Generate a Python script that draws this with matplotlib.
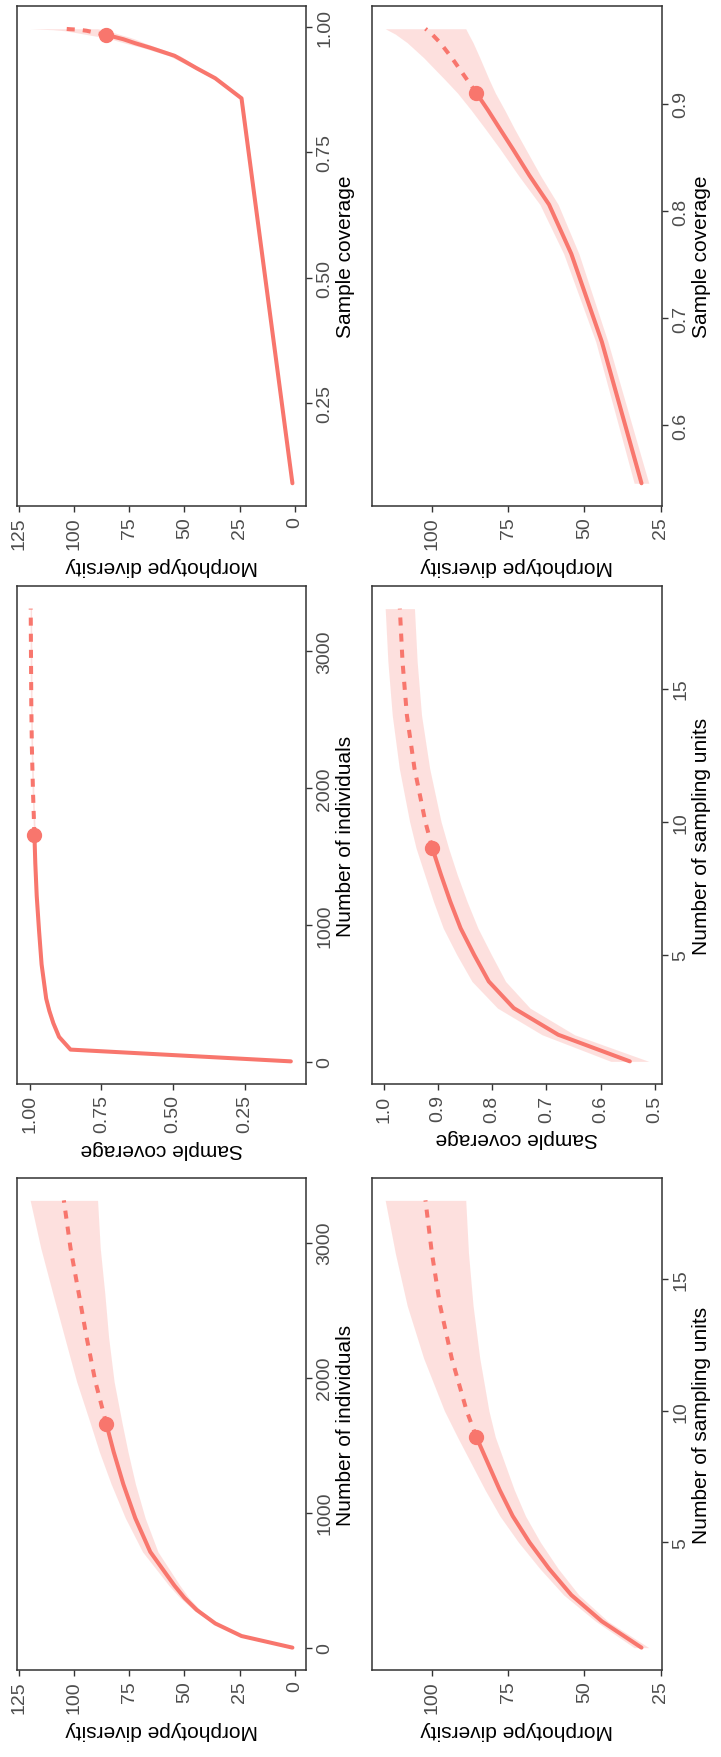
import matplotlib
matplotlib.use('Agg')
import matplotlib.pyplot as plt

plt.rcParams['font.family'] = ['Liberation Sans', 'DejaVu Sans']

# individual-based curve (knots), observed sample at index 10
n_ind = [1, 87, 180, 280, 370, 460, 710, 960, 1210, 1450, 1656, 1970, 2300, 2620, 2960, 3312]
div_ind = [1.0, 24.1, 36.0, 44.4, 50.0, 54.5, 65.5, 72.3, 77.7, 82.1, 85.4, 90.4, 94.4, 97.9, 101.7, 104.7]
div_ind_lo = [0.8, 23.6, 35.0, 42.9, 48.0, 52.0, 62.0, 67.8, 72.2, 75.6, 78.2, 81.9, 84.4, 86.1, 88.2, 89.4]
div_ind_hi = [1.2, 24.6, 37.0, 45.9, 52.0, 57.0, 69.0, 76.8, 83.2, 88.6, 92.6, 98.9, 104.4, 109.7, 115.2, 120.0]
sc_ind = [0.089, 0.858, 0.898, 0.918, 0.932, 0.943, 0.959, 0.968, 0.976, 0.981, 0.984, 0.989, 0.993, 0.995, 0.996, 0.997]
sc_ind_lo = [0.082, 0.852, 0.893, 0.913, 0.927, 0.939, 0.956, 0.965, 0.973, 0.978, 0.981, 0.986, 0.990, 0.992, 0.993, 0.994]
sc_ind_hi = [0.096, 0.864, 0.903, 0.923, 0.937, 0.947, 0.962, 0.971, 0.979, 0.984, 0.987, 0.992, 0.996, 0.998, 0.999, 0.999]
obs_ind = 10

# incidence-based curve (sampling units), observed sample at index 8
u_inc = [1, 2, 3, 4, 5, 6, 7, 8, 9, 10, 12, 14, 16, 18]
div_inc = [31.3, 44.3, 54.3, 61.6, 68.0, 73.5, 77.8, 81.6, 85.4, 88.6, 93.5, 97.3, 100.0, 102.1]
div_inc_lo = [28.9, 42.3, 51.8, 58.6, 64.4, 69.3, 73.0, 76.1, 79.2, 81.3, 84.3, 86.5, 88.0, 88.9]
div_inc_hi = [33.7, 46.3, 56.8, 64.6, 71.6, 77.7, 82.6, 87.1, 91.6, 95.9, 102.7, 108.1, 112.0, 115.3]
sc_inc = [0.546, 0.678, 0.760, 0.806, 0.833, 0.858, 0.877, 0.894, 0.910, 0.923, 0.943, 0.957, 0.965, 0.970]
sc_inc_lo = [0.511, 0.648, 0.730, 0.775, 0.801, 0.826, 0.846, 0.864, 0.880, 0.894, 0.915, 0.930, 0.938, 0.943]
sc_inc_hi = [0.581, 0.708, 0.790, 0.837, 0.865, 0.890, 0.908, 0.924, 0.940, 0.952, 0.971, 0.984, 0.992, 0.997]
obs_inc = 8

red = '#F8766D'
W, H = 721, 1758

fig = plt.figure(figsize=(W / 100, H / 100), dpi=100)


def panel(box, x, y, lo, hi, obs, xlab, ylab, xticks, xtl, yticks, ytl):
    left, top, w, bottom = box
    ax = fig.add_axes([left / W, 1 - bottom / H, w / W, (bottom - top) / H])
    # whole chart is turned a quarter turn: x runs upwards, y runs right-to-left
    ax.fill_betweenx(x, lo, hi, color=red, alpha=0.22, lw=0)
    ax.plot(y[:obs + 1], x[:obs + 1], color=red, lw=2.9, solid_capstyle='round',
            solid_joinstyle='round')
    ax.plot(y[obs:], x[obs:], color=red, lw=2.9, ls=(0, (2, 2)))
    ax.plot([y[obs]], [x[obs]], 'o', color=red, ms=10)
    ax.margins(0.05)
    ax.invert_xaxis()
    ax.yaxis.tick_right()
    ax.yaxis.set_label_position('right')
    ax.set_yticks(xticks)
    ax.set_yticklabels(xtl, rotation=90, va='center')
    ax.set_xticks(yticks)
    ax.set_xticklabels(ytl, rotation=90)
    ax.set_ylabel(xlab, rotation=90, fontsize=15, labelpad=2)
    ax.set_xlabel(ylab, rotation=180, fontsize=15, labelpad=5)
    ax.tick_params(length=4.5, width=1.0, color='#333333', labelcolor='#4D4D4D',
                   labelsize=14, pad=3)
    for s in ax.spines.values():
        s.set_color('#333333')
        s.set_linewidth(1.1)
    return ax


div_ticks_a = [0, 25, 50, 75, 100, 125]
div_ticks_b = [25, 50, 75, 100]

panel((17, 7, 289, 507), sc_ind, div_ind, div_ind_lo, div_ind_hi, obs_ind,
      'Sample coverage', 'Morphotype diversity',
      [0.25, 0.50, 0.75, 1.00], ['0.25', '0.50', '0.75', '1.00'],
      div_ticks_a, [str(v) for v in div_ticks_a])
panel((372, 7, 290, 507), sc_inc, div_inc, div_inc_lo, div_inc_hi, obs_inc,
      'Sample coverage', 'Morphotype diversity',
      [0.6, 0.7, 0.8, 0.9], ['0.6', '0.7', '0.8', '0.9'],
      div_ticks_b, [str(v) for v in div_ticks_b])
panel((17, 587, 289, 1085), n_ind, sc_ind, sc_ind_lo, sc_ind_hi, obs_ind,
      'Number of individuals', 'Sample coverage',
      [0, 1000, 2000, 3000], ['0', '1000', '2000', '3000'],
      [0.25, 0.50, 0.75, 1.00], ['0.25', '0.50', '0.75', '1.00'])
panel((372, 587, 290, 1085), u_inc, sc_inc, sc_inc_lo, sc_inc_hi, obs_inc,
      'Number of sampling units', 'Sample coverage',
      [5, 10, 15], ['5', '10', '15'],
      [0.5, 0.6, 0.7, 0.8, 0.9, 1.0], ['0.5', '0.6', '0.7', '0.8', '0.9', '1.0'])
panel((17, 1179, 289, 1671), n_ind, div_ind, div_ind_lo, div_ind_hi, obs_ind,
      'Number of individuals', 'Morphotype diversity',
      [0, 1000, 2000, 3000], ['0', '1000', '2000', '3000'],
      div_ticks_a, [str(v) for v in div_ticks_a])
panel((372, 1179, 290, 1671), u_inc, div_inc, div_inc_lo, div_inc_hi, obs_inc,
      'Number of sampling units', 'Morphotype diversity',
      [5, 10, 15], ['5', '10', '15'],
      div_ticks_b, [str(v) for v in div_ticks_b])

fig.savefig('out.png', dpi=100)
